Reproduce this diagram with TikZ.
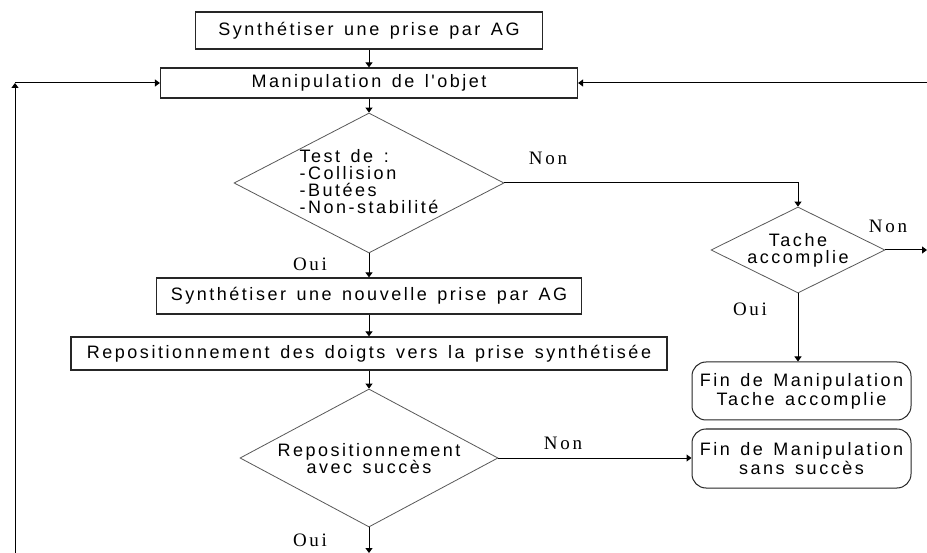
\documentclass[tikz,border=0pt]{standalone}
\usepackage{fontspec}
\usetikzlibrary{shapes.geometric,arrows.meta}
\newfontfamily\boxfont[LetterSpace=14,WordSpace=1.4]{Liberation Sans}
\newfontfamily\lblfont[LetterSpace=14]{Liberation Serif}
\begin{document}
\begin{tikzpicture}[x=1pt,y=-1pt,
  rectbox/.style={draw=black!85,line width=1.2pt,minimum height=#1,inner sep=0pt,font=\boxfont\fontsize{18}{17}\selectfont},
  rectbox/.default=34,
  endbox/.style={draw=black!85,line width=1pt,rounded corners=14pt,minimum width=219,minimum height=58,inner sep=0pt,align=center,font=\boxfont\fontsize{18}{19}\selectfont},
  dia/.style={draw=black!65,line width=0.8pt,diamond,inner sep=0pt},
  diatext/.style={inner sep=0pt,font=\boxfont\fontsize{18}{17}\selectfont},
  lbl/.style={inner sep=0pt,font=\lblfont\fontsize{19}{20}\selectfont},
  conn/.style={draw=black,line width=1pt,-{Triangle[length=5pt,width=7pt]}},
  plain/.style={draw=black,line width=1pt}]
\path[use as bounding box,fill=white] (0,0) rectangle (927,553);

\node[rectbox=37,minimum width=347] (b1) at (369,30.5) {Synthétiser une prise par AG};
\node[rectbox=30,minimum width=417] (manip) at (369,83) {Manipulation de l'objet};
\node[dia,minimum width=270,minimum height=140] (d1) at (369,183) {};
\node[diatext,align=left] (d1t) at (369,182) {Test de :\\-Collision\\-Butées\\-Non-stabilité};
\node[rectbox=36,minimum width=425] (nouv) at (369,296) {Synthétiser une nouvelle prise par AG};
\node[rectbox=33,minimum width=596] (repos) at (369,353.5) {Repositionnement des doigts vers la prise synthétisée};
\node[dia,minimum width=258,minimum height=138] (d3) at (369,458) {};
\node[diatext,align=center] (d3t) at (369,459) {Repositionnement\\avec succès};
\node[dia,minimum width=174,minimum height=86] (d2) at (798,250) {};
\node[diatext,align=center] (d2t) at (798,250) {Tache\\accomplie};
\node[endbox] (e1) at (801.5,391) {Fin de Manipulation\\Tache accomplie};
\node[endbox,minimum height=59] (e2) at (801.5,458.5) {Fin de Manipulation\\sans succès};

\coordinate (lb) at (15,553);
\coordinate (lt) at (15,83);
\coordinate (rt) at (927,83);
\coordinate (r2) at (927,250);
\coordinate (bb) at (369,553);

\draw[conn] (b1) -- (manip);
\draw[conn] (manip) -- (d1);
\draw[conn] (d1) -- (nouv);
\draw[conn] (nouv) -- (repos);
\draw[conn] (repos) -- (d3);
\draw[conn] (d3.south) -- (bb);
\draw[conn] (d1.east) -| (d2.north);
\draw[conn] (d2.east) -- (r2);
\draw[conn] (d2.south) -- (d2.south |- e1.north);
\draw[conn] (d3.east) -- (d3.east -| e2.west);
\draw[conn] (rt) -- (manip.east);
\draw[conn] (lb) -- (lt);
\draw[conn] (lt) -- (manip.west);

\node[lbl] (n1) at (548,158) {Non};
\node[lbl] (o1) at (310,264) {Oui};
\node[lbl] (n2) at (888,226) {Non};
\node[lbl] (o2) at (750,309) {Oui};
\node[lbl] (n3) at (563,443) {Non};
\node[lbl] (o3) at (310,540) {Oui};
\end{tikzpicture}
\end{document}
